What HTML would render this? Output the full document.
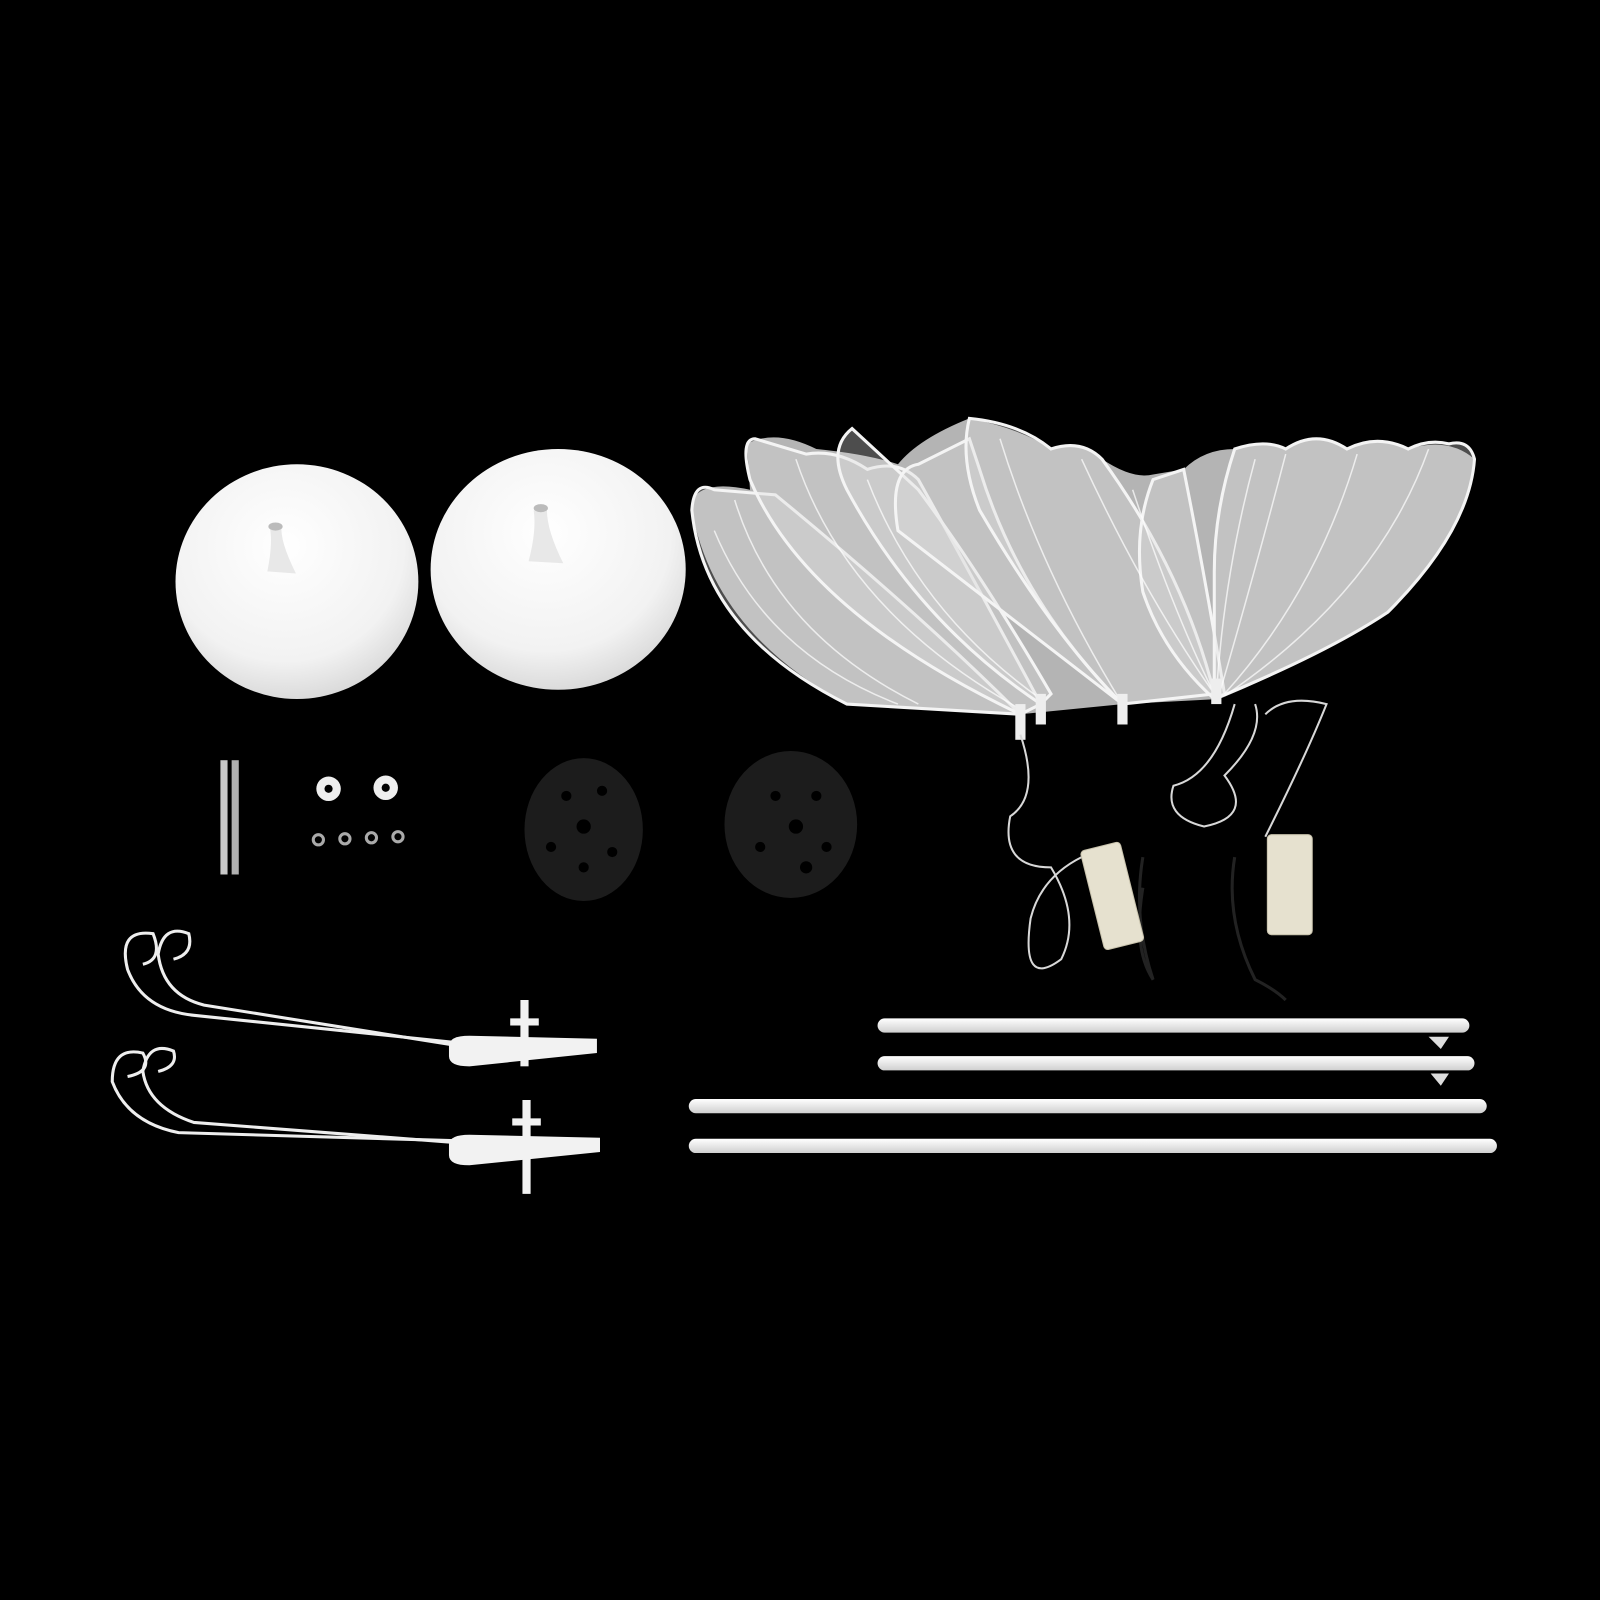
<!DOCTYPE html>
<html><head><meta charset="utf-8"><style>
html,body{margin:0;padding:0;background:#000;}
svg{display:block;}
</style></head><body>
<svg width="1600" height="1600" viewBox="0 0 1568 1568" xmlns="http://www.w3.org/2000/svg">
<defs>
<radialGradient id="dome" cx="45%" cy="35%" r="70%">
<stop offset="0" stop-color="#ffffff"/><stop offset="0.7" stop-color="#f2f2f2"/><stop offset="1" stop-color="#d4d4d4"/>
</radialGradient>
<linearGradient id="pole" x1="0" y1="0" x2="0" y2="1">
<stop offset="0" stop-color="#ffffff"/><stop offset="1" stop-color="#cfcfcf"/>
</linearGradient>
</defs>
<rect width="1568" height="1568" fill="#000"/>

<!-- bases -->
<ellipse cx="291" cy="570" rx="119" ry="115" fill="url(#dome)"/>
<path d="M262 560 Q268 530 264 515 L276 515 Q274 530 290 562 Z" fill="#e8e8e8"/>
<ellipse cx="270" cy="516" rx="7" ry="4" fill="#bbb"/>
<ellipse cx="547" cy="558" rx="125" ry="118" fill="url(#dome)"/>
<path d="M518 550 Q526 520 523 500 L536 500 Q536 520 552 552 Z" fill="#e8e8e8"/>
<ellipse cx="530" cy="498" rx="7" ry="4" fill="#bbb"/>

<!-- leaves silhouette -->
<path d="M678 490 Q690 470 735 480 L732 435 Q760 420 800 440 Q850 445 880 455 Q900 430 950 410 Q1000 420 1030 440 Q1060 430 1080 450 Q1110 470 1130 465 L1160 460 Q1180 440 1210 440 Q1240 430 1260 440 Q1290 420 1320 440 Q1350 425 1380 440 Q1420 428 1445 450 Q1440 520 1360 600 Q1280 650 1195 685 L1100 690 L1000 700 L830 690 Q700 620 678 500 Z" fill="#b4b4b4"/>
<g stroke="#f4f4f4" stroke-width="3" fill="#dcdcdc" fill-opacity="0.35">
<path d="M700 480 Q680 470 678 500 Q690 620 830 690 L1000 700 Q900 600 760 485 Z"/>
<path d="M740 430 Q725 430 735 470 Q790 600 1000 700 L1020 690 Q950 560 900 470 Q880 450 850 460 Q820 440 790 445 Z"/>
<path d="M835 420 Q810 440 830 480 Q900 610 1020 690 L1030 680 Q960 560 900 480 Z"/>
<path d="M880 520 Q870 460 900 455 Q930 440 950 430 L960 460 Q1000 590 1100 690 Z"/>
<path d="M950 410 Q940 450 960 500 Q1030 620 1100 690 L1190 680 Q1160 560 1080 450 Q1060 430 1030 440 Q1000 415 950 410 Z"/>
<path d="M1130 470 Q1110 520 1120 580 Q1140 640 1190 685 L1200 680 Q1180 560 1160 460 Z"/>
<path d="M1210 440 Q1190 500 1190 560 Q1190 630 1190 685 Q1300 640 1360 600 Q1440 520 1445 450 Q1440 430 1420 435 Q1400 430 1380 440 Q1350 425 1320 440 Q1290 420 1260 440 Q1240 430 1210 440 Z"/>
</g>
<g stroke="#ffffff" stroke-opacity="0.7" stroke-width="1.5" fill="none">
<path d="M720 490 Q760 620 900 690"/><path d="M780 450 Q830 600 1000 695"/>
<path d="M850 470 Q900 600 1020 685"/><path d="M980 430 Q1020 560 1100 690"/>
<path d="M1060 450 Q1120 580 1190 680"/><path d="M1260 445 Q1230 560 1195 680"/>
<path d="M1330 445 Q1290 580 1200 680"/><path d="M1400 440 Q1350 580 1200 682"/>
<path d="M1230 450 Q1200 560 1192 680"/><path d="M700 520 Q750 640 880 690"/>
<path d="M1110 480 Q1150 600 1190 680"/>
</g>
<g fill="#eee"><rect x="995" y="690" width="10" height="35"/><rect x="1015" y="680" width="10" height="30"/><rect x="1095" y="680" width="10" height="30"/><rect x="1187" y="665" width="10" height="25"/></g>

<!-- wires -->
<g stroke="#d8d8d8" stroke-width="2" fill="none">
<path d="M1000 720 Q1020 780 990 800 Q980 850 1030 850 Q1060 900 1040 940 Q1000 970 1010 900 Q1020 860 1060 840"/>
<path d="M1210 690 Q1190 760 1150 770 Q1140 800 1180 810 Q1230 800 1200 760 Q1240 720 1230 690"/>
<path d="M1240 700 Q1260 680 1300 690 Q1280 740 1240 820"/>
</g>
<g stroke="#222" stroke-width="3" fill="none">
<path d="M1120 840 Q1110 900 1130 960 Q1110 930 1120 870"/>
<path d="M1210 840 Q1200 900 1230 960 Q1250 970 1260 980"/>
</g>
<g fill="#e6e1cf" stroke="#c9c3ad" stroke-width="1">
<rect x="1070" y="828" width="40" height="100" rx="4" transform="rotate(-14 1090 878)"/>
<rect x="1242" y="818" width="44" height="98" rx="4"/>
</g>

<!-- small parts -->
<rect x="216" y="745" width="7" height="112" fill="#c8c8c8"/>
<rect x="227" y="745" width="7" height="112" fill="#b0b0b0"/>
<circle cx="322" cy="773" r="12" fill="#eee"/><circle cx="322" cy="773" r="4" fill="#000"/>
<circle cx="378" cy="772" r="12" fill="#eee"/><circle cx="378" cy="772" r="4" fill="#000"/>
<g fill="none" stroke="#aaa" stroke-width="3">
<circle cx="312" cy="823" r="5"/><circle cx="338" cy="822" r="5"/><circle cx="364" cy="821" r="5"/><circle cx="390" cy="820" r="5"/>
</g>

<!-- black discs -->
<ellipse cx="572" cy="813" rx="58" ry="70" fill="#1c1c1c"/>
<ellipse cx="775" cy="808" rx="65" ry="72" fill="#1c1c1c"/>
<g fill="#000">
<circle cx="555" cy="780" r="5"/><circle cx="590" cy="775" r="5"/><circle cx="572" cy="810" r="7"/><circle cx="540" cy="830" r="5"/><circle cx="600" cy="835" r="5"/><circle cx="572" cy="850" r="5"/>
<circle cx="760" cy="780" r="5"/><circle cx="800" cy="780" r="5"/><circle cx="780" cy="810" r="7"/><circle cx="745" cy="830" r="5"/><circle cx="810" cy="830" r="5"/><circle cx="790" cy="850" r="6"/>
</g>

<!-- arms -->
<g stroke="#eee" stroke-width="3" fill="none">
<path d="M450 1022 L190 995 Q140 990 125 950 Q115 910 150 915 Q160 940 140 945"/>
<path d="M450 1025 L200 985 Q160 975 155 935 Q160 905 185 915 Q190 935 170 940"/>
<path d="M450 1118 L175 1110 Q125 1100 110 1060 Q110 1025 140 1032 Q150 1050 125 1055"/>
<path d="M450 1120 L190 1100 Q145 1085 140 1050 Q145 1020 170 1030 Q175 1045 155 1050"/>
</g>
<g fill="#f2f2f2">
<path d="M440 1025 Q440 1015 460 1015 L585 1018 L585 1032 L460 1045 Q440 1045 440 1035 Z"/>
<rect x="510" y="980" width="8" height="65"/><rect x="500" y="998" width="28" height="7"/>
<path d="M440 1122 Q440 1112 460 1112 L588 1115 L588 1129 L460 1142 Q440 1142 440 1132 Z"/>
<rect x="512" y="1078" width="8" height="92"/><rect x="502" y="1096" width="28" height="7"/>
</g>

<!-- poles -->
<g fill="url(#pole)">
<rect x="860" y="998" width="580" height="14" rx="7"/>
<rect x="860" y="1035" width="585" height="14" rx="7"/>
<rect x="675" y="1077" width="782" height="14" rx="7"/>
<rect x="675" y="1116" width="792" height="14" rx="7"/>
</g>
<g fill="#ddd"><path d="M1400 1016 L1420 1016 L1412 1028 Z"/><path d="M1402 1052 L1420 1052 L1412 1064 Z"/></g>
</svg>
</body></html>
